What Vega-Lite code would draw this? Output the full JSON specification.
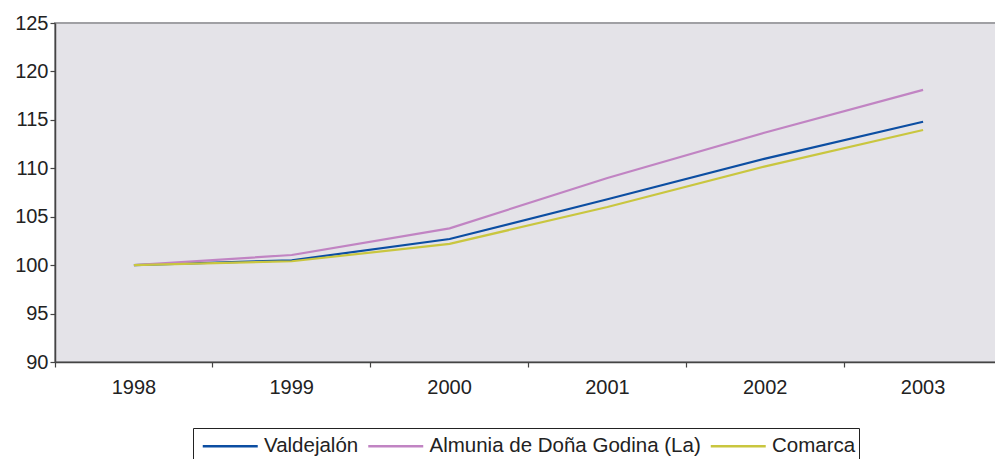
{
  "$schema": "https://vega.github.io/schema/vega-lite/v6.json",
  "autosize": {"type": "none"},
  "width": 947,
  "height": 339,
  "padding": {"left": 55, "top": 23, "right": 0, "bottom": 97},
  "background": "white",
  "config": {
    "view": {"fill": "#e4e3e8", "stroke": "#a0a0a4", "strokeWidth": 2},
    "font": "Liberation Sans"
  },
  "data": {
    "values": [
      {"year": "1998", "series": "Valdejalón", "value": 100},
      {"year": "1999", "series": "Valdejalón", "value": 100.5},
      {"year": "2000", "series": "Valdejalón", "value": 102.7},
      {"year": "2001", "series": "Valdejalón", "value": 106.8},
      {"year": "2002", "series": "Valdejalón", "value": 111.0},
      {"year": "2003", "series": "Valdejalón", "value": 114.8},
      {"year": "1998", "series": "Almunia de Doña Godina (La)", "value": 100},
      {"year": "1999", "series": "Almunia de Doña Godina (La)", "value": 101.05},
      {"year": "2000", "series": "Almunia de Doña Godina (La)", "value": 103.8},
      {"year": "2001", "series": "Almunia de Doña Godina (La)", "value": 109.0},
      {"year": "2002", "series": "Almunia de Doña Godina (La)", "value": 113.7},
      {"year": "2003", "series": "Almunia de Doña Godina (La)", "value": 118.1},
      {"year": "1998", "series": "Comarca", "value": 100},
      {"year": "1999", "series": "Comarca", "value": 100.4},
      {"year": "2000", "series": "Comarca", "value": 102.2},
      {"year": "2001", "series": "Comarca", "value": 106.0},
      {"year": "2002", "series": "Comarca", "value": 110.2},
      {"year": "2003", "series": "Comarca", "value": 113.95}
    ]
  },
  "mark": {"type": "line", "strokeWidth": 2.2},
  "encoding": {
    "x": {
      "field": "year",
      "type": "ordinal",
      "scale": {"type": "band", "paddingInner": 0, "paddingOuter": 0},
      "axis": {
        "title": null,
        "labelAngle": 0,
        "bandPosition": 0,
        "labelFont": "Liberation Sans",
        "labelFontSize": 20,
        "labelColor": "#222222",
        "labelPadding": 10,
        "domainColor": "#444444",
        "domainWidth": 1.5,
        "tickColor": "#444444",
        "tickSize": 5,
        "tickWidth": 1.2,
        "grid": false
      }
    },
    "y": {
      "field": "value",
      "type": "quantitative",
      "scale": {"domain": [90, 125], "nice": false, "zero": false},
      "axis": {
        "title": null,
        "values": [90, 95, 100, 105, 110, 115, 120, 125],
        "labelFont": "Liberation Sans",
        "labelFontSize": 20,
        "labelColor": "#222222",
        "labelPadding": 2,
        "domainColor": "#444444",
        "domainWidth": 1.5,
        "tickColor": "#444444",
        "tickSize": 5,
        "tickWidth": 1.2,
        "grid": false
      }
    },
    "color": {
      "field": "series",
      "type": "nominal",
      "sort": ["Valdejalón", "Almunia de Doña Godina (La)", "Comarca"],
      "scale": {
        "domain": ["Valdejalón", "Almunia de Doña Godina (La)", "Comarca"],
        "range": ["#0c4ea2", "#c184c3", "#c9c63f"]
      },
      "legend": {
        "title": null,
        "orient": "none",
        "legendX": 138,
        "legendY": 405,
        "direction": "horizontal",
        "symbolType": "M-0.6,0H3.4",
        "symbolSize": 756,
        "symbolStrokeWidth": 2.4,
        "labelFont": "Liberation Sans",
        "labelFontSize": 20.5,
        "labelLimit": 500,
        "labelColor": "#222222",
        "labelOffset": 38,
        "columnPadding": 2.5,
        "strokeColor": "#222222",
        "padding": 3,
        "fillColor": "white"
      }
    }
  }
}
